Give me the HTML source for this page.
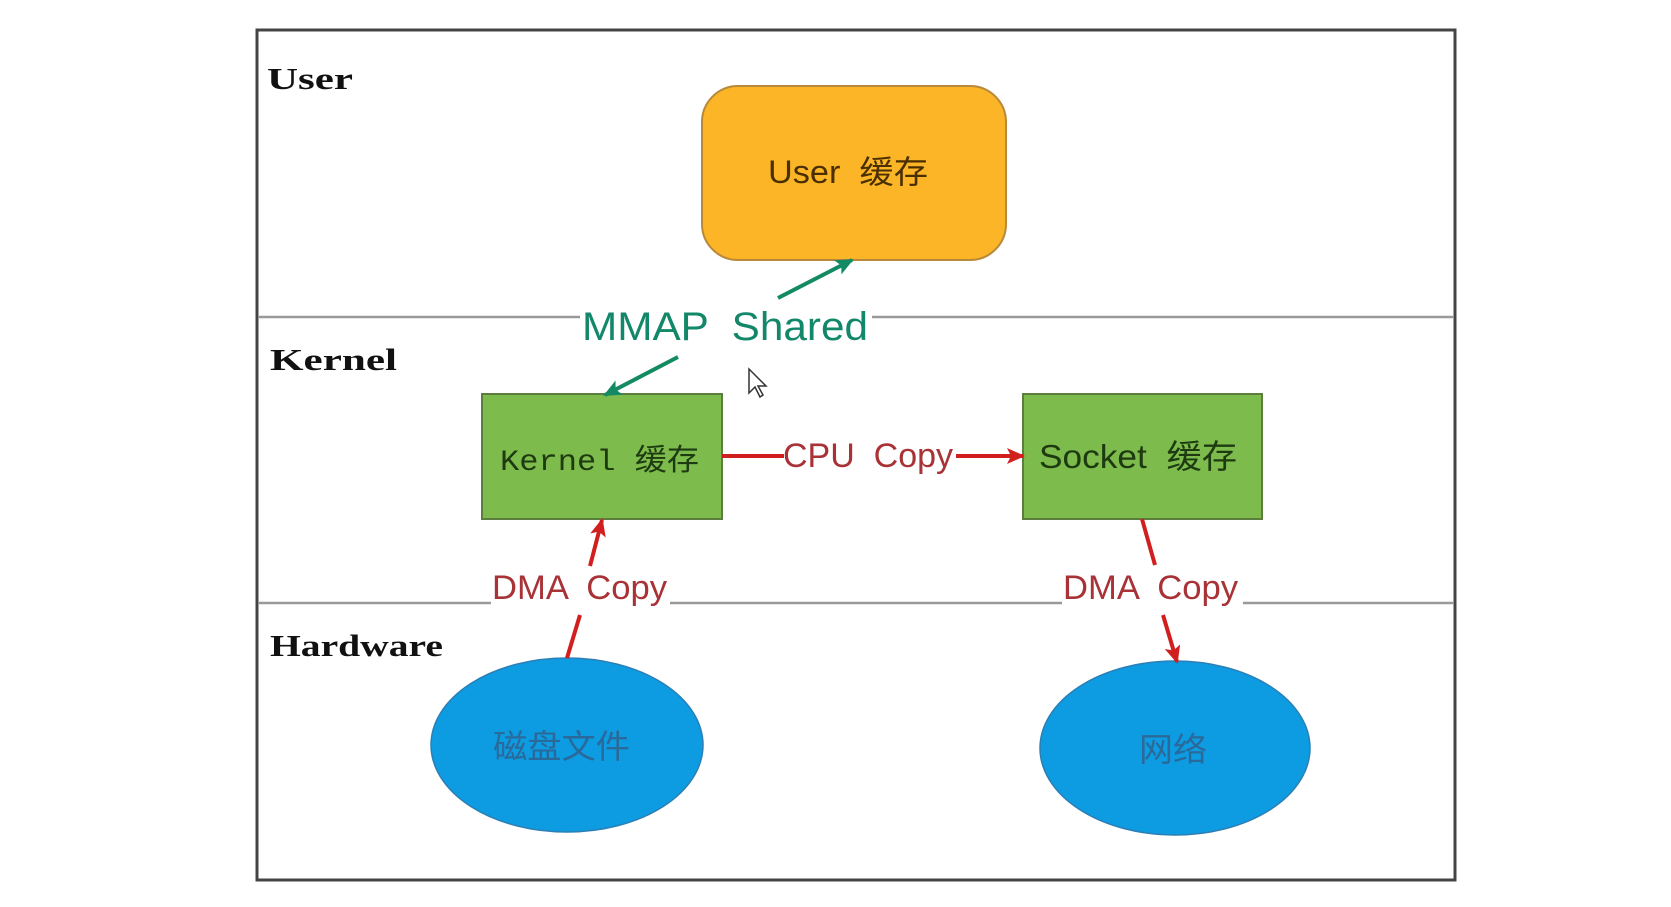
<!DOCTYPE html>
<html><head><meta charset="utf-8"><style>
html,body{margin:0;padding:0;background:#fff;}
svg{display:block}
text{white-space:pre}
</style></head><body>
<svg width="1671" height="907" viewBox="0 0 1671 907" xmlns="http://www.w3.org/2000/svg" xml:space="preserve">
<defs>
<marker id="ag" markerWidth="18" markerHeight="16" refX="16" refY="8" orient="auto" markerUnits="userSpaceOnUse"><path d="M0,0 L18,8 L0,16 L4,8 z" fill="#138a63"/></marker>
<marker id="ar" markerWidth="18" markerHeight="16" refX="16" refY="8" orient="auto" markerUnits="userSpaceOnUse"><path d="M0,0 L18,8 L0,16 L4,8 z" fill="#d11f1f"/></marker>
</defs>
<rect x="257" y="30" width="1198" height="850" fill="#fff" stroke="#444" stroke-width="3"/>
<line x1="258" y1="317" x2="580" y2="317" stroke="#999" stroke-width="2.5"/>
<line x1="872" y1="317" x2="1454" y2="317" stroke="#999" stroke-width="2.5"/>
<line x1="258" y1="603" x2="491" y2="603" stroke="#999" stroke-width="2.5"/>
<line x1="670" y1="603" x2="1062" y2="603" stroke="#999" stroke-width="2.5"/>
<line x1="1243" y1="603" x2="1454" y2="603" stroke="#999" stroke-width="2.5"/>
<g font-family="Liberation Serif, serif" font-weight="bold" font-size="31" fill="#111">
<text x="267" y="89" textLength="86" lengthAdjust="spacingAndGlyphs">User</text>
<text x="270" y="370" textLength="127" lengthAdjust="spacingAndGlyphs">Kernel</text>
<text x="270" y="656" textLength="173" lengthAdjust="spacingAndGlyphs">Hardware</text>
</g>
<rect x="702" y="86" width="304" height="174" rx="36" fill="#fbb526" stroke="#b8893a" stroke-width="2"/>
<text x="768" y="183" textLength="160" lengthAdjust="spacingAndGlyphs" font-family="Liberation Sans, 'Noto Sans CJK SC', sans-serif" font-size="32" fill="#4a3000">User  缓存</text>
<rect x="482" y="394" width="240" height="125" fill="#7dbb4c" stroke="#5b7d3e" stroke-width="2"/>
<text x="500" y="470" textLength="199" lengthAdjust="spacingAndGlyphs" font-family="Liberation Mono, 'Noto Sans CJK SC', monospace" font-size="30" fill="#1d3a10">Kernel 缓存</text>
<rect x="1023" y="394" width="239" height="125" fill="#7dbb4c" stroke="#5b7d3e" stroke-width="2"/>
<text x="1039" y="468" textLength="198" lengthAdjust="spacingAndGlyphs" font-family="Liberation Sans, 'Noto Sans CJK SC', sans-serif" font-size="33" fill="#1d3a10">Socket  缓存</text>
<ellipse cx="567" cy="745" rx="136" ry="87" fill="#0d9be2" stroke="#2b7fb5" stroke-width="1.5"/>
<text x="493" y="758" textLength="137" lengthAdjust="spacingAndGlyphs" font-family="'Noto Sans CJK SC', sans-serif" font-size="33" fill="#2a6a9a">磁盘文件</text>
<ellipse cx="1175" cy="748" rx="135" ry="87" fill="#0d9be2" stroke="#2b7fb5" stroke-width="1.5"/>
<text x="1139" y="761" textLength="68" lengthAdjust="spacingAndGlyphs" font-family="'Noto Sans CJK SC', sans-serif" font-size="33" fill="#2a6a9a">网络</text>
<text x="582" y="340" textLength="286" lengthAdjust="spacingAndGlyphs" font-family="Liberation Sans, sans-serif" font-size="40" fill="#13876a">MMAP  Shared</text>
<line x1="778" y1="298" x2="852" y2="260" stroke="#138a63" stroke-width="4" marker-end="url(#ag)"/>
<line x1="678" y1="357" x2="605" y2="395" stroke="#138a63" stroke-width="4" marker-end="url(#ag)"/>
<line x1="722" y1="456" x2="784" y2="456" stroke="#d11f1f" stroke-width="4"/>
<text x="783" y="467" textLength="170" lengthAdjust="spacingAndGlyphs" font-family="Liberation Sans, sans-serif" font-size="34" fill="#a83236">CPU  Copy</text>
<line x1="956" y1="456" x2="1023" y2="456" stroke="#d11f1f" stroke-width="4" marker-end="url(#ar)"/>
<text x="492" y="599" textLength="175" lengthAdjust="spacingAndGlyphs" font-family="Liberation Sans, sans-serif" font-size="34" fill="#a83236">DMA  Copy</text>
<line x1="567" y1="658" x2="580" y2="615" stroke="#d11f1f" stroke-width="4"/>
<line x1="590" y1="566" x2="602" y2="520" stroke="#d11f1f" stroke-width="4" marker-end="url(#ar)"/>
<text x="1063" y="599" textLength="175" lengthAdjust="spacingAndGlyphs" font-family="Liberation Sans, sans-serif" font-size="34" fill="#a83236">DMA  Copy</text>
<line x1="1142" y1="519" x2="1155" y2="565" stroke="#d11f1f" stroke-width="4"/>
<line x1="1163" y1="615" x2="1177" y2="662" stroke="#d11f1f" stroke-width="4" marker-end="url(#ar)"/>
<path d="M749,369 L749,393 L755,387 L760,397 L763,395 L758,386 L766,386 Z" fill="#fff" stroke="#333" stroke-width="1.5"/>
</svg>
</body></html>
